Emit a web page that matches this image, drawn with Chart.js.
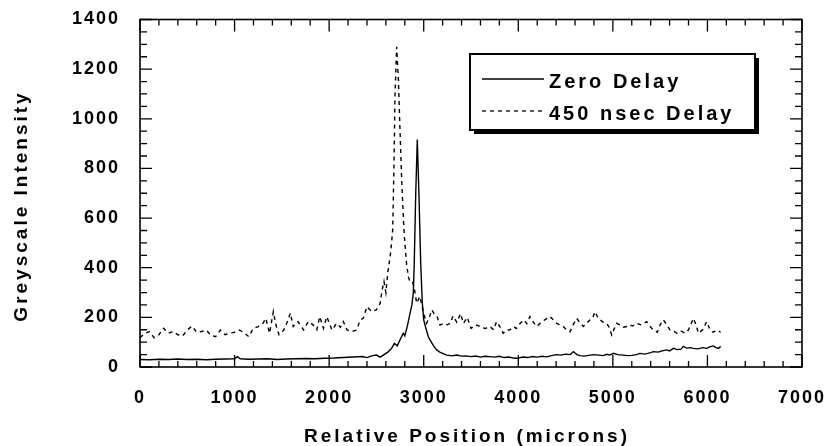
<!DOCTYPE html>
<html lang="en">
  <head>
    <meta charset="UTF-8" />
    <title>Greyscale Intensity vs Relative Position</title>
    <script src="https://cdn.jsdelivr.net/npm/chart.js"></script>
    <style>
      body {
        margin: 0;
        background: #fff;
      }
      canvas {
        display: block;
      }
    </style>
  </head>
  <body>
    <canvas id="chart" width="824" height="446"></canvas>

    <script>
      // values (microns, greyscale)
      const zeroPos = [
        0, 100, 200, 300, 400, 500, 600, 700, 800, 900, 1000, 1030, 1060, 1150,
        1250, 1350, 1450, 1550, 1650, 1750, 1850, 1950, 2050, 2150, 2250, 2350,
        2400, 2450, 2500, 2540, 2580, 2620, 2660, 2690, 2720, 2750, 2784, 2800,
        2830, 2855, 2875, 2890, 2900, 2915, 2932, 2950, 2968, 2985, 3000, 3020,
        3049, 3080, 3110, 3137, 3170, 3200, 3243, 3300, 3350, 3400, 3450, 3500,
        3550, 3600, 3650, 3700, 3750, 3800, 3850, 3900, 3950, 3983, 4050, 4100,
        4150, 4200, 4250, 4300, 4350, 4406, 4450, 4500, 4550, 4582, 4620, 4652,
        4700, 4758, 4800, 4850, 4900, 4935, 4970, 5005, 5050, 5111, 5150, 5200,
        5250, 5287, 5340, 5400, 5428, 5480, 5520, 5569, 5600, 5640, 5680, 5720,
        5746, 5780, 5820, 5851, 5900, 5950, 5992, 6030, 6063, 6090, 6116, 6140,
      ];
      const zeroDelay = [
        30, 29, 31, 30, 32, 30, 31, 29, 31, 32, 33, 42, 33, 31, 32, 33, 30, 32,
        33, 34, 33, 35, 36, 38, 40, 42, 38, 45, 48, 40, 50, 60, 75, 95, 85, 110,
        136, 125, 170, 216, 250, 298, 420, 690, 916, 690, 420, 260, 190, 160,
        122, 100, 82, 69, 60, 55, 48, 45, 48, 44, 45, 42, 44, 40, 43, 42, 40, 43,
        38, 40, 36, 35, 40, 38, 42, 40, 43, 41, 46, 50, 48, 52, 50, 62, 50, 46,
        44, 48, 50, 48, 46, 51, 48, 55, 50, 48, 46, 47, 50, 55, 52, 58, 62, 60,
        65, 69, 65, 75, 70, 72, 83, 76, 78, 75, 73, 78, 75, 82, 85, 78, 75, 83,
      ];

      const delayPos = [
        0, 50, 100, 150, 200, 250, 300, 350, 400, 450, 500, 550, 600, 650, 700,
        750, 800, 850, 900, 950, 1000, 1050, 1100, 1150, 1200, 1250, 1300, 1330,
        1370, 1410, 1440, 1470, 1520, 1550, 1590, 1620, 1670, 1730, 1780, 1830,
        1870, 1900, 1940, 1975, 2030, 2080, 2120, 2150, 2190, 2240, 2290, 2330,
        2360, 2400, 2450, 2500, 2540, 2560, 2580, 2600, 2620, 2645, 2660, 2672,
        2686, 2696, 2714, 2732, 2749, 2767, 2791, 2805, 2820, 2840, 2855, 2880,
        2900, 2925, 2960, 3000, 3030, 3060, 3085, 3110, 3137, 3172, 3210, 3250,
        3280, 3310, 3350, 3390, 3420, 3460, 3500, 3550, 3600, 3650, 3700, 3740,
        3770, 3810, 3840, 3880, 3910, 3950, 3980, 4020, 4060, 4090, 4124, 4160,
        4195, 4230, 4280, 4336, 4370, 4406, 4440, 4476, 4510, 4547, 4580, 4617,
        4650, 4688, 4720, 4758, 4790, 4811, 4840, 4864, 4900, 4935, 4960, 4988,
        5010, 5041, 5080, 5110, 5146, 5180, 5210, 5252, 5300, 5358, 5390, 5428,
        5470, 5500, 5534, 5570, 5605, 5640, 5675, 5720, 5763, 5800, 5851, 5880,
        5904, 5950, 5992, 6028, 6060, 6098, 6140,
      ];
      const delay450 = [
        118, 135, 143, 118, 130, 156, 136, 143, 130, 125, 149, 165, 140, 143,
        149, 128, 122, 149, 130, 136, 140, 149, 138, 122, 156, 163, 176, 196,
        136, 223, 165, 130, 149, 175, 217, 163, 183, 149, 183, 170, 150, 203,
        156, 203, 149, 176, 160, 183, 149, 143, 149, 190, 196, 243, 223, 230,
        257, 310, 345, 300, 380, 445, 500, 553, 823, 1090, 1290, 1158, 956, 754,
        553, 480, 410, 360, 344, 345, 320, 257, 284, 216, 176, 200, 230, 215,
        208, 169, 176, 170, 176, 206, 180, 215, 176, 200, 156, 170, 163, 155,
        163, 150, 183, 160, 136, 150, 149, 163, 155, 176, 190, 175, 203, 180,
        163, 176, 190, 203, 190, 176, 170, 163, 150, 142, 170, 196, 180, 163,
        175, 190, 200, 223, 200, 190, 180, 176, 160, 129, 150, 176, 168, 160,
        163, 170, 165, 176, 170, 183, 165, 149, 140, 170, 190, 170, 149, 145,
        136, 145, 136, 150, 196, 170, 136, 150, 183, 149, 140, 149, 140,
      ];

      const xTicks = [0, 1000, 2000, 3000, 4000, 5000, 6000, 7000];
      const yTicks = [0, 200, 400, 600, 800, 1000, 1200, 1400];

      const FONT = '"Liberation Sans", Arial, Helvetica, sans-serif';

      function toPoints(xs, ys) {
        return xs.map((x, i) => ({ x: x, y: ys[i] }));
      }

      // canvas letter spacing for the wide bold lettering of the original
      const spacingPlugin = {
        id: "spacing",
        beforeLayout(chart) {
          chart.ctx.letterSpacing = "2px";
        },
        beforeDraw(chart) {
          chart.ctx.letterSpacing = "2px";
        },
      };

      // box frame with inward ticks on all four sides
      const framePlugin = {
        id: "frame",
        afterDatasetsDraw(chart) {
          const { ctx, chartArea: a } = chart;
          const x = chart.scales.x;
          const y = chart.scales.y;
          ctx.save();
          ctx.strokeStyle = "#000";
          ctx.lineWidth = 1.6;
          ctx.strokeRect(a.left, a.top, a.right - a.left, a.bottom - a.top);
          ctx.lineWidth = 1.3;
          ctx.beginPath();
          for (let v = x.min; v <= x.max; v += 200) {
            const px = x.getPixelForValue(v);
            const len = v % 1000 === 0 ? 12 : 6;
            ctx.moveTo(px, a.bottom);
            ctx.lineTo(px, a.bottom - len);
            ctx.moveTo(px, a.top);
            ctx.lineTo(px, a.top + len);
          }
          for (let v = y.min; v <= y.max; v += 50) {
            const py = y.getPixelForValue(v);
            const len = v % 200 === 0 ? 12 : 7;
            ctx.moveTo(a.left, py);
            ctx.lineTo(a.left + len, py);
            ctx.moveTo(a.right, py);
            ctx.lineTo(a.right - len, py);
          }
          ctx.stroke();
          ctx.restore();
        },
        afterDraw(chart) {
          const { ctx } = chart;
          ctx.save();
          ctx.fillStyle = "#000";
          ctx.letterSpacing = "3px";
          ctx.font = "bold 19px " + FONT;
          ctx.textAlign = "center";
          ctx.textBaseline = "middle";
          ctx.fillText("Relative Position (microns)", 467, 437);
          ctx.translate(22, 206);
          ctx.rotate(-Math.PI / 2);
          ctx.fillText("Greyscale Intensity", 0, 0);
          ctx.restore();

          // legend box with drop shadow
          const bx = 470, by = 54, bw = 285, bh = 76;
          ctx.save();
          ctx.fillStyle = "#000";
          ctx.fillRect(bx + 4, by + 4, bw, bh);
          ctx.fillStyle = "#fff";
          ctx.fillRect(bx, by, bw, bh);
          ctx.strokeStyle = "#000";
          ctx.lineWidth = 2;
          ctx.strokeRect(bx, by, bw, bh);
          ctx.fillStyle = "#000";
          ctx.font = "bold 20px " + FONT;
          ctx.letterSpacing = "3px";
          ctx.textBaseline = "middle";
          ctx.textAlign = "left";
          chart.data.datasets.forEach((ds, i) => {
            const ry = by + 25 + i * 32;
            ctx.beginPath();
            ctx.lineWidth = 1.3;
            ctx.setLineDash(ds.borderDash || []);
            ctx.moveTo(bx + 12, ry);
            ctx.lineTo(bx + 74, ry);
            ctx.stroke();
            ctx.setLineDash([]);
            ctx.fillText(ds.label, bx + 79, ry + 3);
          });
          ctx.restore();
        },
      };

      const tickFont = { family: FONT, size: 18, weight: "bold" };
      const plain = (v) => String(v);

      new Chart(document.getElementById("chart").getContext("2d"), {
        type: "line",
        data: {
          datasets: [
            {
              label: "Zero Delay",
              data: toPoints(zeroPos, zeroDelay),
              borderColor: "#000",
              borderWidth: 1.4,
              pointRadius: 0,
              tension: 0,
            },
            {
              label: "450 nsec Delay",
              data: toPoints(delayPos, delay450),
              borderColor: "#000",
              borderWidth: 1.4,
              borderDash: [4, 4],
              pointRadius: 0,
              tension: 0,
            },
          ],
        },
        options: {
          responsive: false,
          animation: false,
          layout: { padding: 0 },
          plugins: {
            legend: { display: false },
            tooltip: { enabled: false },
          },
          scales: {
            x: {
              type: "linear",
              min: 0,
              max: 7000,
              afterBuildTicks(s) {
                s.ticks = xTicks.map((v) => ({ value: v }));
              },
              afterFit(s) {
                s.height = 79;
                s.paddingLeft = 0;
                s.paddingRight = 22;
              },
              ticks: {
                color: "#000",
                font: tickFont,
                padding: 20,
                maxRotation: 0,
                callback: plain,
              },
              grid: { display: false, drawTicks: false },
              border: { display: false },
            },
            y: {
              min: 0,
              max: 1400,
              afterBuildTicks(s) {
                s.ticks = yTicks.map((v) => ({ value: v }));
              },
              afterFit(s) {
                s.width = 140;
                s.paddingTop = 19.5;
                s.paddingBottom = 0;
              },
              ticks: {
                color: "#000",
                font: tickFont,
                padding: 20,
                callback: plain,
              },
              grid: { display: false, drawTicks: false },
              border: { display: false },
            },
          },
        },
        plugins: [spacingPlugin, framePlugin],
      });
    </script>
  </body>
</html>
